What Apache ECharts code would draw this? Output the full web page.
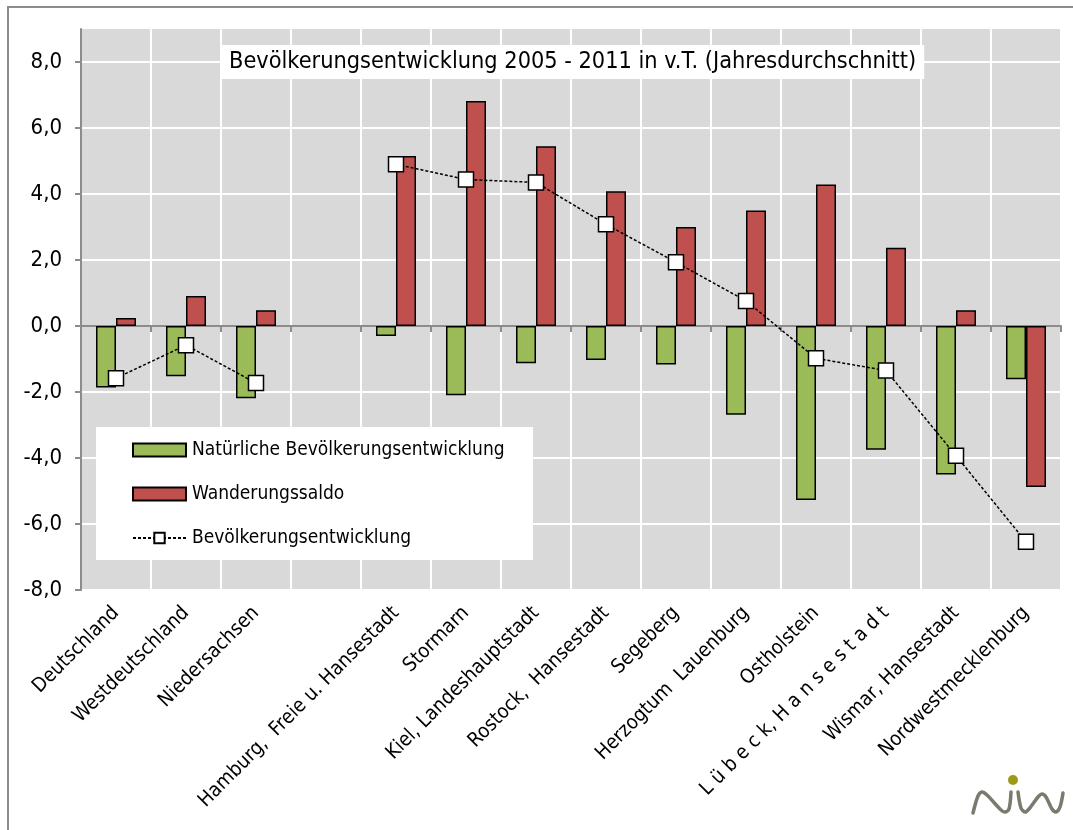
<!DOCTYPE html>
<html>
<head>
<meta charset="utf-8">
<script src="https://cdn.jsdelivr.net/npm/echarts@6/dist/echarts.min.js"></script>
<style>
html,body{margin:0;padding:0;background:#fff;}
#chart{width:1073px;height:830px;}
</style>
</head>
<body>
<div id="chart"></div>
<script>
var FONT = "'DejaVu Sans Condensed', 'DejaVu Sans', sans-serif";

var categories = ['Deutschland', 'Westdeutschland', 'Niedersachsen', '',
  'Hamburg,  Freie u. Hansestadt', 'Stormarn', 'Kiel, Landeshauptstadt',
  'Rostock,  Hansestadt', 'Segeberg', 'Herzogtum  Lauenburg', 'Ostholstein',
  'L ü b e c k, H a n s e s t a d t', 'Wismar, Hansestadt', 'Nordwestmecklenburg'];

var natural   = [-1.86, -1.52, -2.19, null, -0.30, -2.10, -1.13, -1.03, -1.17, -2.69, -5.27, -3.75, -4.50, -1.61];
var migration = [0.24, 0.91, 0.48, null, 5.15, 6.82, 5.45, 4.08, 3.00, 3.50, 4.29, 2.37, 0.48, -4.88];
var total     = [-1.58, -0.58, -1.73, null, 4.90, 4.44, 4.35, 3.08, 1.93, 0.76, -0.98, -1.35, -3.93, -6.54];

var seriesNames = ['Natürliche Bevölkerungsentwicklung', 'Wanderungssaldo', 'Bevölkerungsentwicklung'];
var titleText = 'Bevölkerungsentwicklung 2005 - 2011 in v.T. (Jahresdurchschnitt)';

var chart = echarts.init(document.getElementById('chart'));
var option = {
  backgroundColor: '#ffffff',
  animation: false,
  textStyle: { fontFamily: FONT },
  title: {
    text: titleText,
    left: 222, top: 45,
    backgroundColor: '#ffffff',
    padding: [5, 8, 5, 7],
    textStyle: { fontFamily: FONT, fontSize: 23.3, fontWeight: 'normal', color: '#000', lineHeight: 24 },
    z: 10
  },
  grid: {
    left: 81, right: 12, top: 29, bottom: 240,
    show: true, backgroundColor: '#d9d9d9', borderWidth: 0
  },
  legend: {
    orient: 'vertical',
    left: 127, top: 435,
    itemWidth: 53, itemHeight: 13,
    itemGap: 24,
    data: [
      { name: seriesNames[0], icon: 'rect' },
      { name: seriesNames[1], icon: 'rect' },
      { name: seriesNames[2] }
    ],
    textStyle: { fontFamily: FONT, fontSize: 19, color: '#000', lineHeight: 20, padding: [0, 0, 0, 1] },
    z: 10
  },
  xAxis: [{
    type: 'category',
    data: categories,
    position: 'bottom',
    axisLine: { show: false, onZero: false },
    axisTick: { show: false },
    axisLabel: { rotate: 45, margin: 20, fontSize: 20, color: '#000', fontFamily: FONT, interval: 0 },
    splitLine: { show: true, interval: 0, lineStyle: { color: '#ffffff', width: 2 } }
  }, {
    type: 'category',
    data: categories,
    position: 'bottom',
    axisLine: { show: true, onZero: true, lineStyle: { color: '#8c8c8c', width: 2 } },
    axisTick: { show: true, length: 6, interval: 0, lineStyle: { color: '#8c8c8c', width: 2 } },
    axisLabel: { show: false },
    splitLine: { show: false }
  }],
  yAxis: {
    type: 'value',
    min: -8, max: 9, interval: 2,
    axisLine: { show: true, lineStyle: { color: '#8c8c8c', width: 2 } },
    axisTick: { show: true, length: 6, lineStyle: { color: '#8c8c8c', width: 2 } },
    axisLabel: {
      fontSize: 22, color: '#000', fontFamily: FONT, margin: 19, showMaxLabel: false,
      formatter: function (v) { return v.toFixed(1).replace('.', ','); }
    },
    splitLine: { show: true, showMaxLine: false, lineStyle: { color: '#ffffff', width: 2 } }
  },
  graphic: [
    { type: 'rect', shape: { x: 8, y: 7, width: 1080, height: 840 }, style: { fill: 'none', stroke: '#8c8c8c', lineWidth: 2 }, z: 0, silent: true },
    { type: 'rect', shape: { x: 96, y: 427, width: 437, height: 133 }, style: { fill: '#ffffff' }, z: 5, silent: true },
    { type: 'polyline', shape: { smooth: 0.3, points: [[973, 813], [978, 796], [982, 792], [987, 795], [1001, 810], [1005, 812], [1009, 809], [1011, 792]] },
      style: { stroke: '#7a7a6e', lineWidth: 3.5, fill: 'none', lineCap: 'round' }, z: 5, silent: true },
    { type: 'polyline', shape: { smooth: 0.3, points: [[1018, 792], [1021, 808], [1025, 812], [1029, 809], [1038, 797], [1042, 794], [1046, 797], [1052, 809], [1056, 812], [1060, 807], [1063, 793]] },
      style: { stroke: '#7a7a6e', lineWidth: 3.5, fill: 'none', lineCap: 'round' }, z: 5, silent: true },
    { type: 'circle', shape: { cx: 1013, cy: 780, r: 5 }, style: { fill: '#9c9a16' }, z: 5, silent: true }
  ],
  series: [{
    name: seriesNames[0],
    type: 'bar',
    data: natural,
    barWidth: 20,
    barGap: '0%',
    itemStyle: { color: '#9bbb59', borderColor: '#000', borderWidth: 1.5 }
  }, {
    name: seriesNames[1],
    type: 'bar',
    data: migration,
    barWidth: 20,
    barGap: '0%',
    itemStyle: { color: '#c0504d', borderColor: '#000', borderWidth: 1.5 }
  }, {
    name: seriesNames[2],
    type: 'line',
    data: total,
    connectNulls: false,
    symbol: 'rect',
    symbolSize: 15,
    lineStyle: { color: '#000', width: 1.5, type: [3, 2] },
    itemStyle: { color: '#ffffff', borderColor: '#000', borderWidth: 1.5 },
    z: 5
  }]
};
chart.setOption(option);
</script>
</body>
</html>
